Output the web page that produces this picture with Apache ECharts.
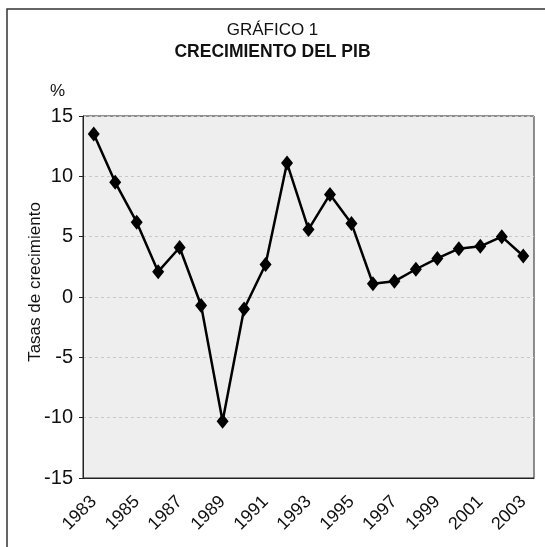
<!DOCTYPE html>
<html>
<head>
<meta charset="utf-8">
<script src="https://cdn.jsdelivr.net/npm/echarts@6/dist/echarts.min.js"></script>
<style>
  html, body { margin: 0; padding: 0; background: #fff; }
  #chart { width: 545px; height: 547px; }
</style>
</head>
<body>
<div id="chart"></div>
<script>
const years = ['1983', '1984', '1985', '1986', '1987', '1988', '1989', '1990', '1991', '1992',
  '1993', '1994', '1995', '1996', '1997', '1998', '1999', '2000', '2001', '2002', '2003'];
const growth = [13.5, 9.5, 6.2, 2.1, 4.1, -0.7, -10.3, -1.0, 2.7, 11.1,
  5.6, 8.5, 6.1, 1.1, 1.3, 2.3, 3.2, 4.0, 4.2, 5.0, 3.4];
const yTicks = [-15, -10, -5, 0, 5, 10, 15];

const font = '"Liberation Sans", Arial, sans-serif';

const chart = echarts.init(document.getElementById('chart'));

chart.setOption({
  backgroundColor: '#fff',
  animation: false,
  textStyle: { fontFamily: font, color: '#111' },
  title: [
    {
      text: 'GRÁFICO 1',
      left: 'center',
      top: 17,
      textStyle: { fontFamily: font, fontSize: 17, fontWeight: 'normal', color: '#111' }
    },
    {
      text: 'CRECIMIENTO DEL PIB',
      left: 'center',
      top: 38,
      textStyle: { fontFamily: font, fontSize: 17.5, fontWeight: 'bold', color: '#111' }
    }
  ],
  graphic: [
    {
      type: 'polyline',
      shape: { points: [[7, 560], [7, 9], [560, 9]] },
      style: { stroke: '#333', lineWidth: 1.5, fill: null }
    },
    {
      type: 'text',
      left: 50,
      top: 83,
      style: { text: '%', font: '17px ' + font, fill: '#111' }
    },
    {
      type: 'text',
      x: 35,
      y: 282,
      rotation: Math.PI / 2,
      style: {
        text: 'Tasas de crecimiento',
        font: '17px ' + font,
        fill: '#111',
        align: 'center',
        verticalAlign: 'middle'
      }
    }
  ],
  grid: {
    left: 83,
    right: 11,
    top: 116,
    bottom: 69,
    show: true,
    backgroundColor: '#eeeeee',
    borderColor: '#222',
    borderWidth: 1
  },
  xAxis: {
    type: 'category',
    data: years,
    boundaryGap: true,
    axisLine: { onZero: false, lineStyle: { color: '#222', width: 1 } },
    axisTick: {
      alignWithLabel: true,
      interval: 1,
      length: 7,
      lineStyle: { color: '#222' }
    },
    axisLabel: {
      interval: 1,
      rotate: 45,
      margin: 21,
      fontSize: 18,
      color: '#111',
      fontFamily: font
    }
  },
  yAxis: {
    type: 'value',
    min: -15,
    max: 15,
    interval: 5,
    axisLine: { show: true, lineStyle: { color: '#222', width: 1 } },
    axisTick: { show: true, length: 4, lineStyle: { color: '#222' } },
    axisLabel: {
      margin: 10,
      fontSize: 20,
      color: '#111',
      fontFamily: font,
      formatter: (v) => (yTicks.includes(v) ? String(v) : '')
    },
    splitLine: {
      show: true,
      lineStyle: { color: '#c8c8c8', type: [3, 3], width: 1 }
    }
  },
  series: [
    {
      type: 'line',
      data: growth,
      showAllSymbol: true,
      symbol: 'diamond',
      symbolSize: [12, 15],
      itemStyle: { color: '#000' },
      lineStyle: { color: '#000', width: 2.5 }
    }
  ]
});
</script>
</body>
</html>
